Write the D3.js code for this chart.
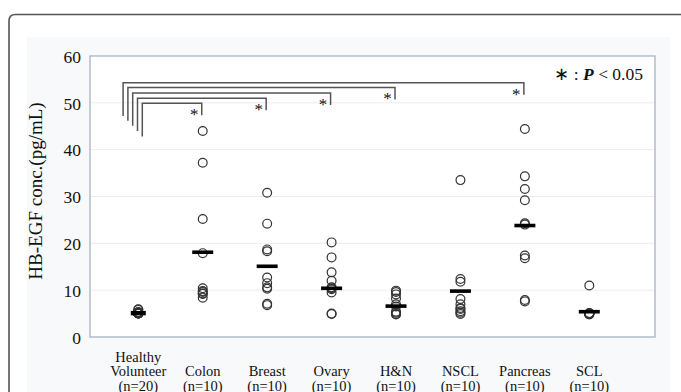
<!DOCTYPE html>
<html>
<head>
<meta charset="utf-8">
<script src="https://cdn.jsdelivr.net/npm/d3@7"></script>
<style>
  html, body { margin: 0; padding: 0; background: #fff; }
  svg { display: block; }
  text { font-family: "Liberation Serif", "Times New Roman", serif; fill: #111; }
</style>
</head>
<body>
<svg width="681" height="392"></svg>
<script>
// groups along the x axis (label lines)
const groups = ["Healthy Volunteer", "Colon", "Breast", "Ovary", "H&N", "NSCL", "Pancreas", "SCL"];
const groupLabels = [
    ["Healthy", "Volunteer", "(n=20)"],
    ["Colon", "(n=10)"],
    ["Breast", "(n=10)"],
    ["Ovary", "(n=10)"],
    ["H&N", "(n=10)"],
    ["NSCL", "(n=10)"],
    ["Pancreas", "(n=10)"],
    ["SCL", "(n=10)"]
];

// individual values (pg/mL)
const healthy  = [5.0, 5.0, 5.1, 5.1, 5.2, 5.2, 5.3, 5.0, 5.1, 5.2, 5.9, 5.8, 5.0, 5.1, 5.2, 5.1, 5.0, 5.3, 5.2, 5.1];
const colon    = [44.0, 37.2, 25.2, 17.9, 10.4, 9.3, 8.4, 9.6, 9.8, 9.2];
const breast   = [30.8, 24.2, 18.7, 18.3, 12.7, 11.5, 10.3, 6.8, 7.1, 10.6];
const ovary    = [20.2, 17.0, 13.8, 12.0, 10.6, 10.4, 10.2, 9.5, 4.9, 5.0];
const hn       = [9.9, 9.6, 9.1, 8.2, 7.0, 6.5, 5.4, 5.2, 4.9, 4.8];
const nscl     = [33.5, 12.4, 11.8, 8.1, 7.0, 6.0, 4.9, 5.2, 5.5, 6.2];
const pancreas = [44.4, 34.3, 31.6, 29.2, 24.3, 24.0, 17.4, 16.8, 7.9, 7.6];
const scl      = [11.0, 4.9, 4.9, 5.0, 4.8, 4.9, 5.0, 5.1, 4.9, 5.0];
const values = [healthy, colon, breast, ovary, hn, nscl, pancreas, scl];

// group mean bars
const means = [5.1, 18.1, 15.1, 10.4, 6.6, 9.8, 23.8, 5.4];

// significance brackets vs Healthy Volunteer: target group, level, left foot
const sigTargets = ["Colon", "Breast", "Ovary", "H&N", "Pancreas"];
const sigLevels  = [49.9, 51.0, 52.1, 53.3, 54.3];
const sigFoot    = [42.8, 44.0, 45.1, 46.2, 47.2];

const yTicks = [0, 10, 20, 30, 40, 50, 60];

const svg = d3.select("svg");

// outer rounded frame and grey panel
svg.append("rect")
    .attr("x", 27).attr("y", 37).attr("width", 643).attr("height", 370)
    .attr("fill", "#f8f9fa");
svg.append("path")
    .attr("d", "M9,400 V21 Q9,14.5 15.5,14.5 H690")
    .attr("fill", "none").attr("stroke", "#555").attr("stroke-width", 1.6);

const plot = { left: 90, right: 655, top: 56, bottom: 337 };

const x = d3.scalePoint()
    .domain(groups)
    .range([138.3, 589.3]);

const y = d3.scaleLinear()
    .domain([0, 60])
    .range([plot.bottom, plot.top]);

svg.append("rect")
    .attr("x", plot.left).attr("y", plot.top)
    .attr("width", plot.right - plot.left).attr("height", plot.bottom - plot.top)
    .attr("fill", "#fff");

// gridlines
svg.append("g")
    .selectAll("line")
    .data(yTicks.slice(1, -1))
    .enter()
    .append("line")
    .attr("x1", plot.left).attr("x2", plot.right)
    .attr("y1", d => y(d)).attr("y2", d => y(d))
    .attr("stroke", "#ececec").attr("stroke-width", 1);

svg.append("rect")
    .attr("x", plot.left).attr("y", plot.top)
    .attr("width", plot.right - plot.left).attr("height", plot.bottom - plot.top)
    .attr("fill", "none").attr("stroke", "#a8b3c4").attr("stroke-width", 1.3);

// y axis
const yAxis = svg.append("g")
    .attr("transform", `translate(${plot.left},0)`)
    .call(d3.axisLeft(y).tickValues(yTicks).tickSize(0).tickPadding(9));
yAxis.select(".domain").remove();
yAxis.selectAll("text")
    .style("font-family", "'Liberation Serif', serif")
    .style("font-size", "17.5px")
    .attr("fill", "#111")
    .attr("dy", "0.36em");

svg.append("text")
    .attr("transform", `translate(42,191) rotate(-90)`)
    .attr("text-anchor", "middle")
    .style("font-size", "19px")
    .text("HB-EGF conc.(pg/mL)");

// x labels
const xl = svg.append("g")
    .selectAll("text")
    .data(groups)
    .enter()
    .append("text")
    .attr("text-anchor", "middle")
    .style("font-size", "14.5px");
xl.each(function (d, i) {
    const lines = groupLabels[i];
    const t = d3.select(this);
    lines.forEach((s, j) => {
        const baseline = 390.5 - (lines.length - 1 - j) * 14.5;
        t.append("tspan")
            .attr("x", x(d))
            .attr("y", baseline)
            .text(s);
    });
});

// points
const pts = groups.flatMap((g, i) => values[i].map(v => ({ g, v })));
svg.append("g")
    .selectAll("circle")
    .data(pts)
    .enter()
    .append("circle")
    .attr("cx", d => x(d.g))
    .attr("cy", d => y(d.v))
    .attr("r", 4.4)
    .attr("fill", "none")
    .attr("stroke", "#333")
    .attr("stroke-width", 1.2);

// mean bars
svg.append("g")
    .selectAll("rect")
    .data(groups)
    .enter()
    .append("rect")
    .attr("x", (d, i) => x(d) - (i === 0 ? 7.5 : 10.5))
    .attr("y", (d, i) => y(means[i]) - (i === 0 ? 2.2 : 1.8))
    .attr("width", (d, i) => i === 0 ? 15 : 21)
    .attr("height", (d, i) => i === 0 ? 4.4 : 3.6)
    .attr("fill", "#000");

// significance brackets
const br = svg.append("g")
    .attr("fill", "none")
    .attr("stroke", "#555")
    .attr("stroke-width", 1.5);
sigTargets.forEach((g, i) => {
    const x0 = x(groups[0]) + 4 - i * 4.8;
    const x1 = x(g) - 1;
    const yTop = y(sigLevels[i]);
    br.append("path")
        .attr("d", `M${x0},${y(sigFoot[i])} V${yTop} H${x1} V${yTop + 12}`);
    svg.append("text")
        .attr("x", x1 - 7.5)
        .attr("y", yTop + 17)
        .attr("text-anchor", "middle")
        .style("font-size", "17px")
        .attr("fill", "#333")
        .text("*");
});

// legend
const leg = svg.append("text")
    .attr("x", 643)
    .attr("y", 80)
    .attr("text-anchor", "end")
    .style("font-size", "17.5px");
leg.append("tspan").text("∗ : ");
leg.append("tspan").style("font-weight", "bold").style("font-style", "italic").text("P");
leg.append("tspan").text(" < 0.05");
</script>
</body>
</html>
